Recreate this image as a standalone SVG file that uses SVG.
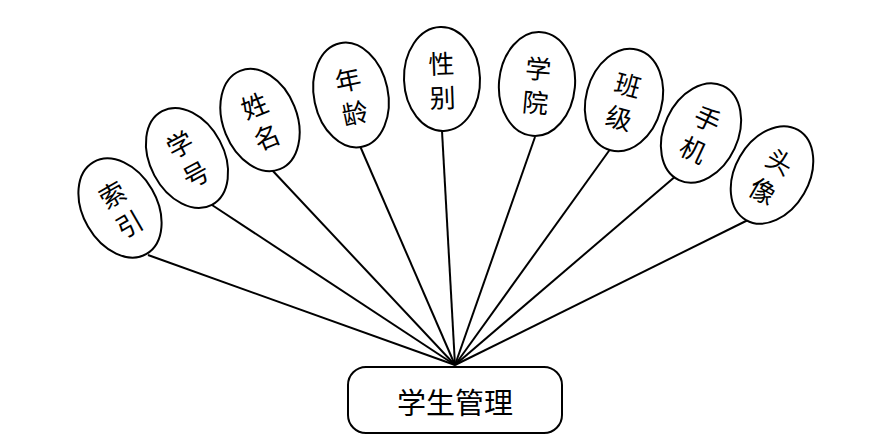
<svg xmlns="http://www.w3.org/2000/svg" width="882" height="445" viewBox="0 0 882 445">
<style>
.e{fill:#fff;stroke:#000;stroke-width:2}
.t{font-family:"Noto Sans CJK SC","Noto Sans CJK JP",sans-serif;font-size:26px;fill:#000;text-anchor:middle;dominant-baseline:central}
.c line{stroke:#000;stroke-width:2}
</style>
<rect width="882" height="445" fill="#fff"/>
<g class="c" id="connectors">
<line x1="148" y1="255" x2="455" y2="365"/>
<line x1="212" y1="205" x2="455" y2="365"/>
<line x1="272" y1="170" x2="455" y2="365"/>
<line x1="360" y1="146" x2="455" y2="365"/>
<line x1="442" y1="131" x2="455" y2="365"/>
<line x1="535" y1="137" x2="455" y2="365"/>
<line x1="611" y1="148" x2="455" y2="365"/>
<line x1="677" y1="175" x2="455" y2="365"/>
<line x1="748" y1="220" x2="455" y2="365"/>
</g>
<g id="n1" transform="translate(120,208) rotate(-30)"><ellipse class="e" rx="37" ry="53"/><text class="t" y="-17">索</text><text class="t" y="17">引</text></g>
<g id="n2" transform="translate(187,158) rotate(-28)"><ellipse class="e" rx="37" ry="53"/><text class="t" y="-17">学</text><text class="t" y="17">号</text></g>
<g id="n3" transform="translate(260,120) rotate(-22)"><ellipse class="e" rx="37" ry="53"/><text class="t" y="-17">姓</text><text class="t" y="17">名</text></g>
<g id="n4" transform="translate(351,95) rotate(-12)"><ellipse class="e" rx="37" ry="53"/><text class="t" y="-17">年</text><text class="t" y="17">龄</text></g>
<g id="n5" transform="translate(442,79) rotate(-2)"><ellipse class="e" rx="38" ry="52"/><text class="t" y="-17">性</text><text class="t" y="17">别</text></g>
<g id="n6" transform="translate(537,84) rotate(5)"><ellipse class="e" rx="38" ry="52"/><text class="t" y="-17">学</text><text class="t" y="17">院</text></g>
<g id="n7" transform="translate(624,100) rotate(15)"><ellipse class="e" rx="38" ry="52"/><text class="t" y="-17">班</text><text class="t" y="17">级</text></g>
<g id="n8" transform="translate(701,133) rotate(25)"><ellipse class="e" rx="37" ry="52"/><text class="t" y="-17">手</text><text class="t" y="17">机</text></g>
<g id="n9" transform="translate(772,175) rotate(30)"><ellipse class="e" rx="37" ry="52"/><text class="t" y="-17">头</text><text class="t" y="17">像</text></g>
<g id="main"><rect class="e" x="348" y="367" width="214" height="66" rx="18"/><text class="t" x="455" y="401" style="font-size:29px">学生管理</text></g>
</svg>
